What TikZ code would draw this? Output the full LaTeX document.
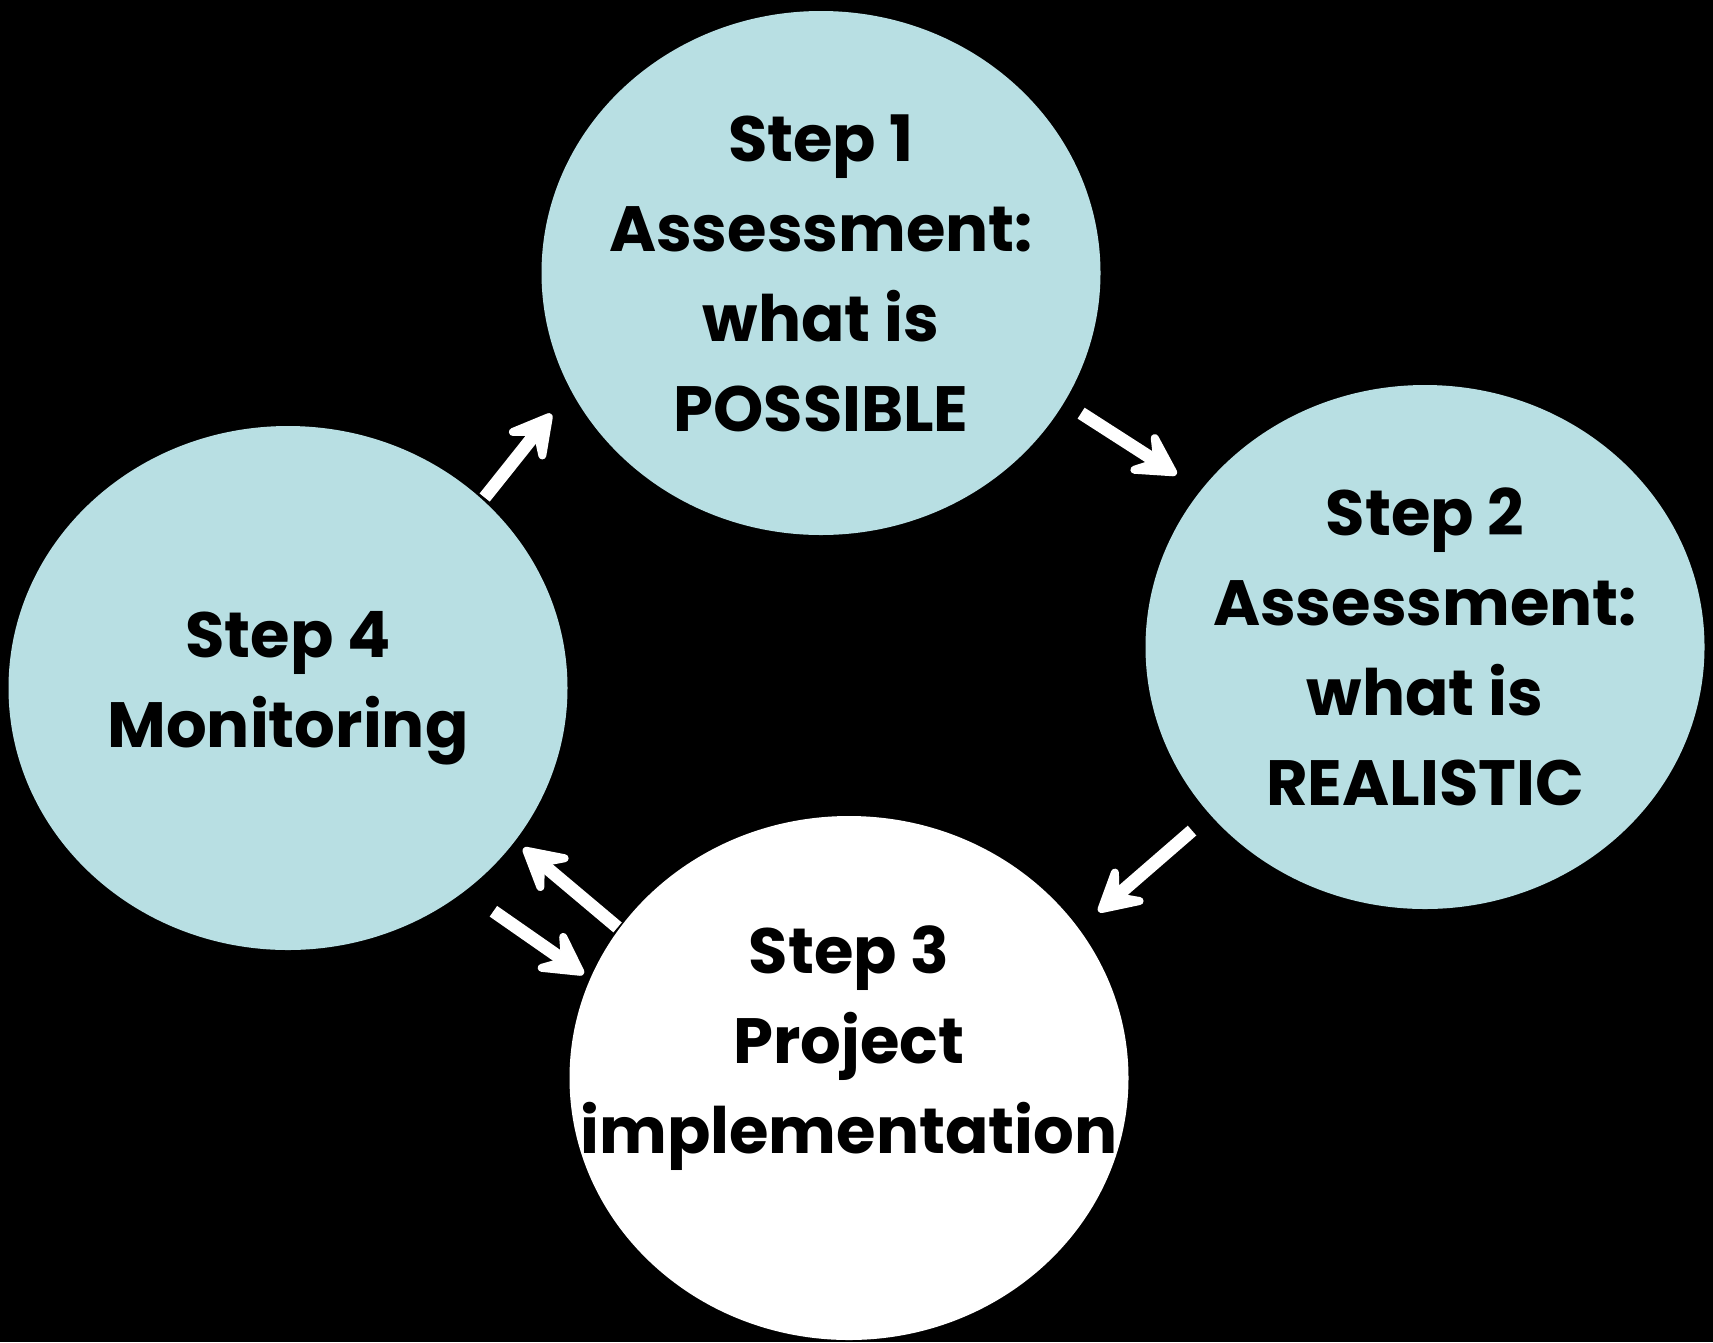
\documentclass[tikz,border=0pt]{standalone}
\usepackage{fontspec}
\setmainfont{Poppins}
\usetikzlibrary{shapes.geometric,arrows.meta}

\definecolor{paleblue}{HTML}{B8DFE3}

\begin{document}
\begin{tikzpicture}
            [x=1pt,y=-1pt,
             stepnode/.style={ellipse,fill=paleblue,minimum width=559pt,minimum height=524pt,inner sep=0pt},
             steptext/.style={align=center,font=\fontsize{64}{90}\selectfont\bfseries,text=black},
             arr/.style={white,line width=13pt,-{Stealth[round,length=58pt,width=64pt,inset=26pt]}}]
            \fill[black] (0,0) rectangle (1713,1342);
            \node[stepnode,label={[steptext]center:{Step 1\\Assessment:\\what is\\POSSIBLE}}] (s1) at (821,273) {};
            \node[stepnode,label={[steptext]center:{Step 2\\Assessment:\\what is\\REALISTIC}}] (s2) at (1425,647) {};
            \node[stepnode,fill=white,label={[steptext,yshift=30pt]center:{Step 3\\Project\\implementation}}] (s3) at (849,1078) {};
            \node[stepnode,label={[steptext]center:{Step 4\\Monitoring}}] (s4) at (288,688) {};
            \draw[arr,shorten <=3pt,shorten >=31pt] (s4.44) -- (s1.205.7);
            \draw[arr,shorten <=20pt,shorten >=29pt] (s1.-28.5) -- (s2.145.7);
            \draw[arr,shorten <=24pt,shorten >=26pt] (s2.218.6) -- (s3.33.5);
            \draw[arr,shorten <=2pt,shorten >=11pt] (s3.147) -- (s4.-34.2);
            \draw[arr,shorten <=35pt,shorten >=8pt] (s4.-49.9) -- (s3.159.2);

        \end{tikzpicture}
\end{document}
